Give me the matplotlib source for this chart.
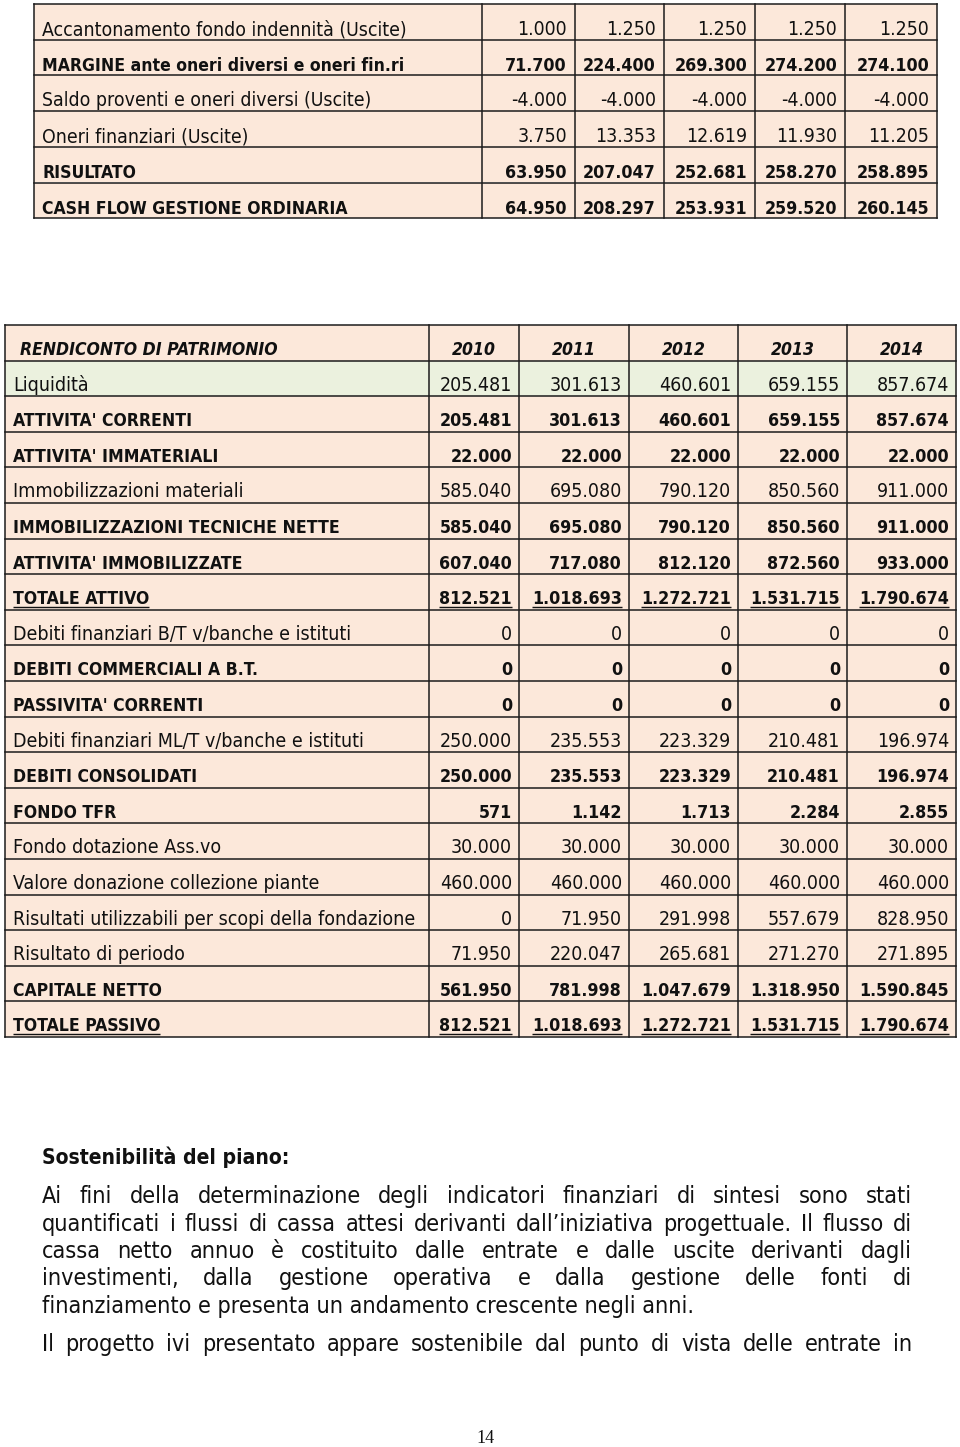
import matplotlib
matplotlib.use("Agg")
import matplotlib.pyplot as plt
from matplotlib import font_manager
from matplotlib.font_manager import FontProperties
from matplotlib.patches import Rectangle

# ---- data -------------------------------------------------------------
flow_labels = [
    "Accantonamento fondo indennità (Uscite)",
    "MARGINE ante oneri diversi e oneri fin.ri",
    "Saldo proventi e oneri diversi (Uscite)",
    "Oneri finanziari (Uscite)",
    "RISULTATO",
    "CASH FLOW GESTIONE ORDINARIA",
]
flow_bold = [False, True, False, False, True, True]
flow_values = [
    [1000, 1250, 1250, 1250, 1250],
    [71700, 224400, 269300, 274200, 274100],
    [-4000, -4000, -4000, -4000, -4000],
    [3750, 13353, 12619, 11930, 11205],
    [63950, 207047, 252681, 258270, 258895],
    [64950, 208297, 253931, 259520, 260145],
]

years = ["2010", "2011", "2012", "2013", "2014"]
sp_title = "RENDICONTO DI PATRIMONIO"
sp_labels = [
    "Liquidità",
    "ATTIVITA' CORRENTI",
    "ATTIVITA' IMMATERIALI",
    "Immobilizzazioni materiali",
    "IMMOBILIZZAZIONI TECNICHE NETTE",
    "ATTIVITA' IMMOBILIZZATE",
    "TOTALE ATTIVO",
    "Debiti finanziari B/T v/banche e istituti",
    "DEBITI COMMERCIALI A B.T.",
    "PASSIVITA' CORRENTI",
    "Debiti finanziari ML/T v/banche e istituti",
    "DEBITI CONSOLIDATI",
    "FONDO TFR",
    "Fondo dotazione Ass.vo",
    "Valore donazione collezione piante",
    "Risultati utilizzabili per scopi della fondazione",
    "Risultato di periodo",
    "CAPITALE NETTO",
    "TOTALE PASSIVO",
]
sp_bold = [False, True, True, False, True, True, True, False, True, True,
           False, True, True, False, False, False, False, True, True]
sp_underline = [False] * 6 + [True] + [False] * 11 + [True]
sp_values = [
    [205481, 301613, 460601, 659155, 857674],
    [205481, 301613, 460601, 659155, 857674],
    [22000, 22000, 22000, 22000, 22000],
    [585040, 695080, 790120, 850560, 911000],
    [585040, 695080, 790120, 850560, 911000],
    [607040, 717080, 812120, 872560, 933000],
    [812521, 1018693, 1272721, 1531715, 1790674],
    [0, 0, 0, 0, 0],
    [0, 0, 0, 0, 0],
    [0, 0, 0, 0, 0],
    [250000, 235553, 223329, 210481, 196974],
    [250000, 235553, 223329, 210481, 196974],
    [571, 1142, 1713, 2284, 2855],
    [30000, 30000, 30000, 30000, 30000],
    [460000, 460000, 460000, 460000, 460000],
    [0, 71950, 291998, 557679, 828950],
    [71950, 220047, 265681, 271270, 271895],
    [561950, 781998, 1047679, 1318950, 1590845],
    [812521, 1018693, 1272721, 1531715, 1790674],
]

heading = "Sostenibilità del piano:"
para1 = [
    "Ai fini della determinazione degli indicatori finanziari di sintesi sono stati",
    "quantificati i flussi di cassa attesi derivanti dall\u2019iniziativa progettuale. Il flusso di",
    "cassa netto annuo è costituito dalle entrate e dalle uscite derivanti dagli",
    "investimenti, dalla gestione operativa e dalla gestione delle fonti di",
    "finanziamento e presenta un andamento crescente negli anni.",
]
para2 = ["Il progetto ivi presentato appare sostenibile dal punto di vista delle entrate in"]
page_number = "14"

# ---- style ------------------------------------------------------------
PEACH = "#fce8da"
GREEN = "#ebf1de"
LINE = "#1c1c1c"
INK = "#111111"

_path = font_manager.findfont(FontProperties(family="DejaVu Sans", stretch="condensed"))
STRETCH = "condensed" if "Condensed" in _path else "normal"
FAMILY = "DejaVu Sans"


def fmt(v):
    return f"{v:,.0f}".replace(",", ".")


fig = plt.figure(figsize=(9.6, 14.47), dpi=100)
ax = fig.add_axes([0, 0, 1, 1])
ax.set_xlim(0, 960)
ax.set_ylim(1447, 0)
ax.axis("off")
renderer = fig.canvas.get_renderer()


# all text sits on a baseline (y grows downwards, in pixels)
def put(x, y, s, size, weight="normal", style="normal", ha="left", **kw):
    return ax.text(x, y, s, fontsize=size, fontweight=weight, fontstyle=style,
                   family=FAMILY, fontstretch=STRETCH, ha=ha, va="baseline",
                   color=INK, **kw)


def width_of(s, size, weight="normal", style="normal"):
    t = put(0, 0, s, size, weight, style)
    w = t.get_window_extent(renderer).width
    t.remove()
    return w


def fit(s, target, weight="normal", style="normal"):
    return 10 * target / width_of(s, 10, weight, style)


def underline(t, y):
    bb = t.get_window_extent(renderer)
    ax.plot([bb.x0, bb.x1], [y, y], color=INK, lw=1.0, solid_capstyle="butt")


def grid(xs, y0, row_h, n_rows, fills):
    for r in range(n_rows):
        ax.add_patch(Rectangle((xs[0], y0 + r * row_h), xs[-1] - xs[0], row_h,
                               facecolor=fills[r], edgecolor="none", zorder=0))
    for r in range(n_rows + 1):
        ax.plot([xs[0], xs[-1]], [y0 + r * row_h] * 2, color=LINE, lw=1.1, zorder=1)
    for x in xs:
        ax.plot([x, x], [y0, y0 + n_rows * row_h], color=LINE, lw=1.1, zorder=1)


# bold figures in the source are letter-spaced, so they run a bit wider
num_bold = fit("857.674", 73, "bold")

# ---- top table (conto economico, tail) --------------------------------
fs_reg = fit("Accantonamento fondo indennità (Uscite)", 363)
fs_bold = fit("CASH FLOW GESTIONE ORDINARIA", 304, "bold")
top_x = [34, 482, 575, 664, 755, 845, 937]
top_y0, top_h = 4, 35.7
grid(top_x, top_y0, top_h, len(flow_labels), [PEACH] * len(flow_labels))
for r, (lab, vals, b) in enumerate(zip(flow_labels, flow_values, flow_bold)):
    yb = top_y0 + r * top_h + 31
    w = "bold" if b else "normal"
    put(42, yb, lab, fs_bold if b else fs_reg, w)
    for c, v in enumerate(vals):
        put(top_x[c + 2] - 8, yb, fmt(v), num_bold if b else fs_reg, w, ha="right")

# ---- stato patrimoniale ----------------------------------------------
sp_reg = fit("Immobilizzazioni materiali", 230)
sp_b = fit("IMMOBILIZZAZIONI TECNICHE NETTE", 322, "bold")
sp_hdr = fit(sp_title, 258, "bold", "italic")
sp_x = [5, 429, 519, 629, 738, 847, 956]
sp_y0, sp_h = 325, 35.6
fills = [PEACH, GREEN] + [PEACH] * (len(sp_labels) - 1)
grid(sp_x, sp_y0, sp_h, len(sp_labels) + 1, fills)

yb = sp_y0 + 30
put(20, yb, sp_title, sp_hdr, "bold", "italic")
for c, yr in enumerate(years):
    put((sp_x[c + 1] + sp_x[c + 2]) / 2, yb, yr, sp_hdr, "bold", "italic", ha="center")

for r, (lab, vals) in enumerate(zip(sp_labels, sp_values)):
    yb = sp_y0 + (r + 1) * sp_h + 30
    b = sp_bold[r]
    w = "bold" if b else "normal"
    texts = [put(13, yb, lab, sp_b if b else sp_reg, w)]
    for c, v in enumerate(vals):
        texts.append(put(sp_x[c + 2] - 7, yb, fmt(v), num_bold if b else sp_reg, w, ha="right"))
    if sp_underline[r]:
        for t in texts:
            underline(t, yb + 2.5)

# ---- paragraph --------------------------------------------------------
p_reg = fit(para1[-1], 655)
p_bold = fit(heading, 245, "bold")
left, right = 42, 912
put(left, 1164, heading, p_bold, "bold")


def justified(line, yb):
    words = line.split(" ")
    widths = [width_of(wd, p_reg) for wd in words]
    gap = (right - left - sum(widths)) / (len(words) - 1)
    x = left
    for wd, wv in zip(words, widths):
        put(x, yb, wd, p_reg)
        x += wv + gap


line_y = [1203.3, 1230.7, 1258, 1285.3, 1312.7]
for i, line in enumerate(para1):
    if i < len(para1) - 1:
        justified(line, line_y[i])
    else:
        put(left, line_y[i], line, p_reg)
justified(para2[0], 1350.7)

ax.text(485, 1443, page_number, fontsize=13, family="Liberation Serif",
        ha="center", va="baseline", color=INK)

fig.savefig("out.png", dpi=100)
